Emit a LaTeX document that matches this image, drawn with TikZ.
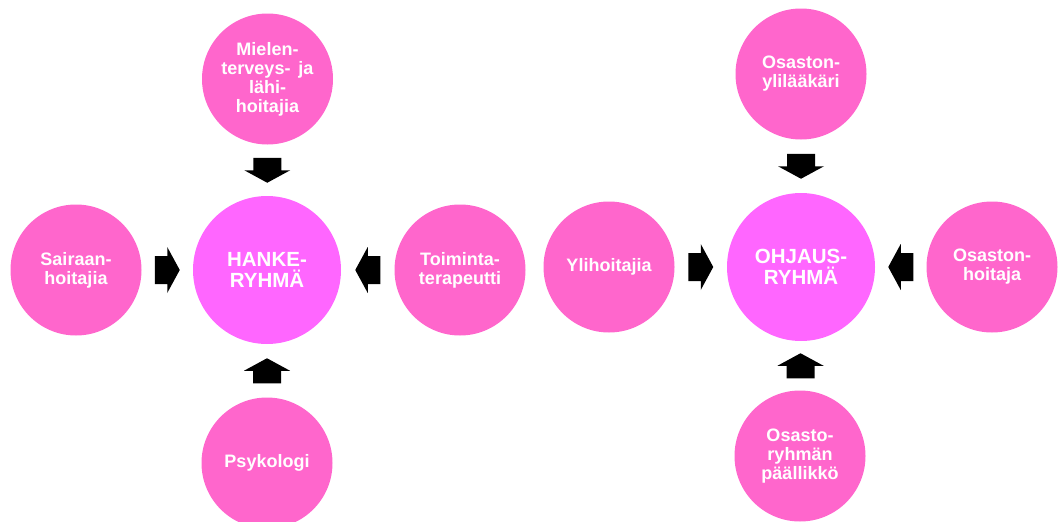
\documentclass[tikz,border=0pt]{standalone}
\usepackage{fontspec}
\setmainfont{Liberation Sans}
\usetikzlibrary{calc}
\definecolor{outerpink}{HTML}{FF66CC}
\definecolor{centerpink}{HTML}{FF66FF}
\tikzset{
  outer/.style={circle, fill=outerpink, minimum size=131pt, inner sep=0pt, text=white,
    align=center, font=\bfseries\fontsize{18}{19}\selectfont},
  hub/.style={circle, fill=centerpink, minimum size=148pt, inner sep=0pt, text=white,
    align=center, font=\bfseries\fontsize{20.5}{20.5}\selectfont},
  blockarrow/.style={fill=black, draw=none}
}
\newcommand{\blockarrowat}[2]{%
  \path[blockarrow, shift={(#1)}, rotate=#2]
    (-12.5,-14) -- (0,-14) -- (0,-23) -- (12.5,0) -- (0,23) -- (0,14) -- (-12.5,14) -- cycle;}
\begin{document}
\begin{tikzpicture}[x=1pt,y=-1pt]
\useasboundingbox (0,0) rectangle (1058,522);
% left cluster
\node[hub] (h) at (267,270) {HANKE-\\RYHMÄ};
\node[outer] (s1) at (76,270) {Sairaan-\\hoitajia};
\node[outer] (m1) at (267.5,79) {Mielen-\\terveys- \,ja\\lähi-\\hoitajia};
\node[outer] (t) at (460,270) {Toiminta-\\terapeutti};
\node[outer] (p) at (267,463) {Psykologi};
\coordinate (a1) at ($(s1.east)!0.5!(h.west)$);
\coordinate (a2) at ($(m1.south)!0.5!(h.north)$);
\coordinate (a3) at ($(t.west)!0.5!(h.east)$);
\coordinate (a4) at ($(p.north)!0.5!(h.south)$);
\blockarrowat{a1}{0}
\blockarrowat{a2}{-90}
\blockarrowat{a3}{180}
\blockarrowat{a4}{90}
% right cluster
\node[hub] (o) at (801,267) {OHJAUS-\\RYHMÄ};
\node[outer] (y) at (609,267) {Ylihoitajia};
\node[outer] (ol) at (801,74) {Osaston-\\ylilääkäri};
\node[outer] (oh) at (992,267) {Osaston-\\hoitaja};
\node[outer] (op) at (800,456) {Osasto-\\ryhmän\\päällikkö};
\coordinate (b1) at ($(y.east)!0.5!(o.west)$);
\coordinate (b2) at ($(ol.south)!0.5!(o.north)$);
\coordinate (b3) at ($(oh.west)!0.5!(o.east)$);
\coordinate (b4) at ($(op.north)!0.5!(o.south)$);
\blockarrowat{b1}{0}
\blockarrowat{b2}{-90}
\blockarrowat{b3}{180}
\blockarrowat{b4}{90}
\end{tikzpicture}
\end{document}
